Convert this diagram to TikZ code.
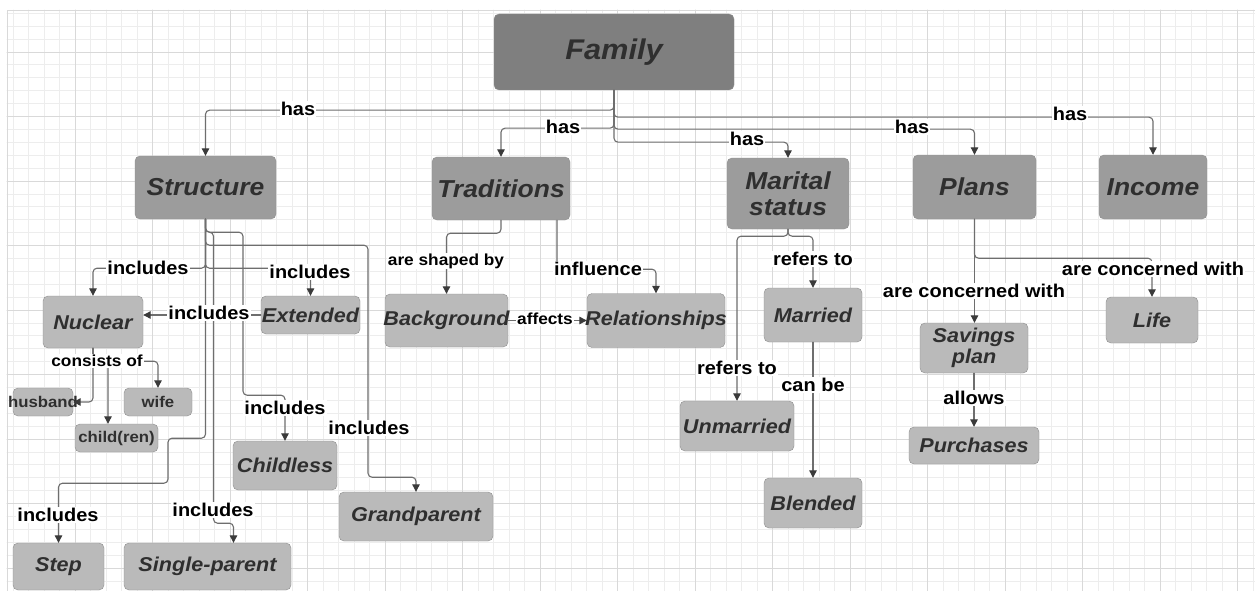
\documentclass[tikz,border=0pt]{standalone}
\usepackage{fontspec}
\setmainfont{Liberation Sans}[FakeStretch=1.08]
\usetikzlibrary{arrows.meta}
\definecolor{boxtop}{HTML}{7F7F7F}
\definecolor{boxmain}{HTML}{9C9C9C}
\definecolor{boxsub}{HTML}{BABABA}
\definecolor{boxline}{HTML}{8E8E8E}
\definecolor{boxtext}{HTML}{2F2F2F}
\definecolor{linkc}{HTML}{6E6E6E}
\definecolor{arrowc}{HTML}{3A3A3A}
\definecolor{gridminor}{HTML}{EDEDED}
\definecolor{gridmajor}{HTML}{D9D9D9}
\begin{document}
\begin{tikzpicture}[x=1pt,y=-1pt,line cap=round,line join=round,
		mainbox/.style={draw=boxline,fill=boxmain,rounded corners=5pt,inner sep=0pt,text=boxtext,align=center,font=\fontsize{24.5}{26}\selectfont\bfseries\itshape},
		rootbox/.style={mainbox,fill=boxtop,font=\fontsize{28.5}{30}\selectfont\bfseries\itshape},
		subbox/.style={mainbox,fill=boxsub,font=\fontsize{20}{21}\selectfont\bfseries\itshape},
		leafbox/.style={mainbox,fill=boxsub,font=\fontsize{15.5}{16}\selectfont\bfseries},
		link/.style={draw=linkc,line width=1.1pt,rounded corners=4pt,-{Triangle[width=7.5pt,length=7.5pt,color=arrowc]}},
		lbl/.style={fill=white,inner sep=1pt,text=black,font=\fontsize{18.5}{19}\selectfont\bfseries},
		slbl/.style={lbl,font=\fontsize{16}{17}\selectfont\bfseries}]
	\useasboundingbox[fill=white] (0,0) rectangle (1255,591);
	% grid
	\foreach \i in {0,...,80}{
			\draw[gridminor,line width=0.8pt] ({13+15.5*\i},10) -- ({13+15.5*\i},591);
		}
	\foreach \j in {0,...,44}{
			\draw[gridminor,line width=0.8pt] (7,{13.3+12.9*\j}) -- (1255,{13.3+12.9*\j});
		}
	\foreach \i in {0,...,15}{
			\draw[gridmajor,line width=0.9pt] ({75+77.5*\i},10) -- ({75+77.5*\i},591);
		}
	\foreach \j in {0,...,8}{
			\draw[gridmajor,line width=0.9pt] (7,{52+64.5*\j}) -- (1255,{52+64.5*\j});
		}
	\draw[gridmajor,line width=0.9pt] (7,591) -- (7,10) -- (1255,10);
	% boxes
	\node[rootbox,minimum width=240pt,minimum height=76pt] (family) at (614,52) {Family};
	\node[mainbox,minimum width=141pt,minimum height=63pt] (structure) at (205.5,187.5) {Structure};
	\node[mainbox,minimum width=138pt,minimum height=63pt] (traditions) at (501,188.5) {Traditions};
	\node[mainbox,minimum width=122pt,minimum height=71pt] (marital) at (788,193.5) {Marital\\status};
	\node[mainbox,minimum width=123pt,minimum height=64pt] (plans) at (974.5,187) {Plans};
	\node[mainbox,minimum width=108pt,minimum height=64pt] (income) at (1153,187) {Income};
	\node[subbox,minimum width=100pt,minimum height=52pt] (nuclear) at (93,322) {Nuclear};
	\node[subbox,minimum width=99pt,minimum height=38pt] (extended) at (310.5,315) {Extended};
	\node[leafbox,minimum width=60pt,minimum height=28pt,inner xsep=-6pt] (husband) at (43,402) {husband};
	\node[leafbox,minimum width=68pt,minimum height=28pt] (wife) at (158,402) {wife};
	\node[leafbox,minimum width=83pt,minimum height=28pt] (child) at (116.5,438) {child(ren)};
	\node[subbox,minimum width=104pt,minimum height=49pt] (childless) at (285,465.5) {Childless};
	\node[subbox,minimum width=91pt,minimum height=47pt] (step) at (58.5,566.5) {Step};
	\node[subbox,minimum width=167pt,minimum height=47pt] (singleparent) at (207.5,566.5) {Single-parent};
	\node[subbox,minimum width=154pt,minimum height=49pt] (grandparent) at (416,516.5) {Grandparent};
	\node[subbox,minimum width=123pt,minimum height=53pt,inner xsep=-4pt] (background) at (446.5,320.5) {Background};
	\node[subbox,minimum width=138pt,minimum height=54pt,inner xsep=-4pt] (relationships) at (656,320.5) {Relationships};
	\node[subbox,minimum width=98pt,minimum height=54pt] (married) at (813,315) {Married};
	\node[subbox,minimum width=114pt,minimum height=50pt] (unmarried) at (737,426) {Unmarried};
	\node[subbox,minimum width=98pt,minimum height=50pt] (blended) at (813,503) {Blended};
	\node[subbox,minimum width=108pt,minimum height=50pt] (savings) at (974,348) {Savings\\plan};
	\node[subbox,minimum width=92pt,minimum height=46pt] (life) at (1152,320) {Life};
	\node[subbox,minimum width=130pt,minimum height=37pt] (purchases) at (974,445.5) {Purchases};
	% family
	\draw[link] (family.south) -- ++(0,20) -| (structure.north);
	\draw[link] (family.south) -- ++(0,38) -| (traditions.north);
	\draw[link] (family.south) -- ++(0,52) -| (marital.north);
	\draw[link] (family.south) -- ++(0,39) -| (plans.north);
	\draw[link] (family.south) -- ++(0,27) -| (income.north);
	% structure
	\draw[link] (structure.south) -- ++(0,49) -| (nuclear.north);
	\draw[link] (structure.south) -- ++(0,49) -| (extended.north);
	\draw[link] (extended.west) -- (extended.west -| nuclear.east);
	\draw[link] (structure.south) -- ++(0,13) -- ++(8,0) -- ++(0,291) -| ([xshift=26pt]singleparent.north);
	\draw[link] (structure.south) -- ++(0,13) -- ++(37.5,0) -- ++(0,163) -| (childless.north);
	\draw[link] (structure.south) -- ++(0,26) -- ++(162.5,0) -- ++(0,232) -| (grandparent.north);
	\draw[link] (structure.south) -- ++(0,219) -- ++(-37.5,0) -- ++(0,45) -| (step.north);
	% nuclear
	\draw[link] (nuclear.south) |- (husband.east);
	\draw[link] (nuclear.south) -- ++(0,14) -| ([xshift=-8.5pt]child.north);
	\draw[link] (nuclear.south) -- ++(0,13) -| (wife.north);
	% traditions
	\draw[link] (traditions.south) -- ++(0,13) -| (background.north);
	\draw[link] ([xshift=56pt]traditions.south) -- ++(0,49) -| (relationships.north);
	\draw[link] (background.east) -- (relationships.west);
	% marital status
	\draw[link] (marital.south) -- ++(0,7) -| (married.north);
	\draw[link] (marital.south) -- ++(0,7) -| (unmarried.north);
	\draw[link] (married.south) -- (blended.north);
	% plans
	\draw[link] (plans.south) -- (plans.south |- savings.north);
	\draw[link] (plans.south) -- ++(0,39) -| (life.north);
	\draw[link] (savings.south) -- (purchases.north);
	% labels
	\node[lbl] (hasstructure) at (298,109) {has};
	\node[lbl] (hastraditions) at (563,127) {has};
	\node[lbl] (hasmarital) at (747,139) {has};
	\node[lbl] (hasplans) at (912,127) {has};
	\node[lbl] (hasincome) at (1070,114) {has};
	\node[lbl] (incnuclear) at (148,268) {includes};
	\node[lbl] (incextended) at (310,272) {includes};
	\node[lbl] (incnuclearb) at (209,313) {includes};
	\node[lbl] (incchildless) at (285,408) {includes};
	\node[lbl] (incgrand) at (369,428) {includes};
	\node[lbl] (incsingle) at (213,510) {includes};
	\node[lbl] (incstep) at (58,515) {includes};
	\node[slbl] (consists) at (97,361) {consists of};
	\node[slbl] (shaped) at (446,261) {are shaped by};
	\node[lbl] (influence) at (598,269) {influence};
	\node[slbl] (affects) at (545,319) {affects};
	\node[lbl] (refmarried) at (813,259) {refers to};
	\node[lbl] (refunmarried) at (737,368) {refers to};
	\node[lbl] (canbe) at (813,385) {can be};
	\node[lbl] (consavings) at (974,291) {are concerned with};
	\node[lbl] (conlife) at (1153,269) {are concerned with};
	\node[lbl] (allows) at (974,398) {allows};
\end{tikzpicture}
\end{document}
